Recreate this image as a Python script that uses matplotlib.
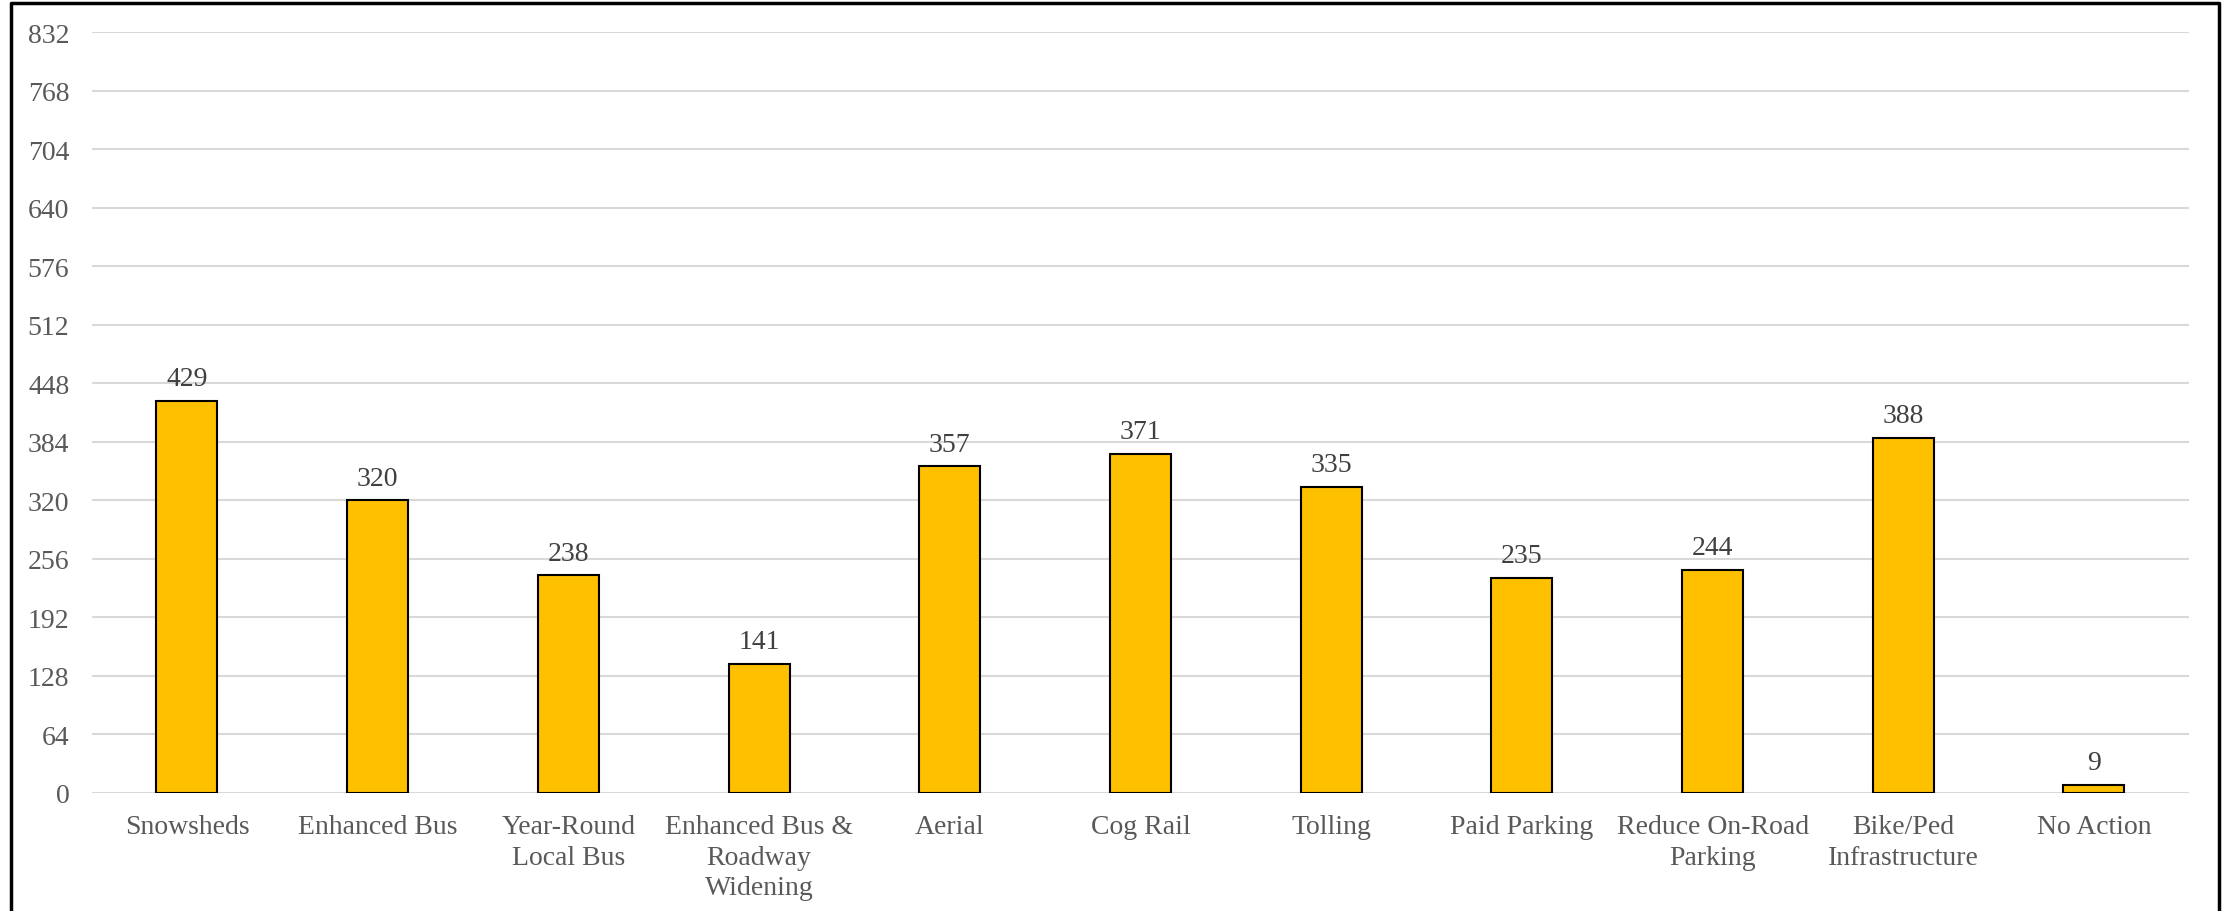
import matplotlib.pyplot as plt
from matplotlib.lines import Line2D

# options and vote counts
categories = ["Snowsheds", "Enhanced Bus", "Year-Round\nLocal Bus",
              "Enhanced Bus &\nRoadway\nWidening", "Aerial", "Cog Rail",
              "Tolling", "Paid Parking", "Reduce On-Road\nParking",
              "Bike/Ped\nInfrastructure", "No Action"]
votes = [429, 320, 238, 141, 357, 371, 335, 235, 244, 388, 9]
yticks = [0, 64, 128, 192, 256, 320, 384, 448, 512, 576, 640, 704, 768, 832]

plt.rcParams['font.family'] = ['Liberation Serif', 'DejaVu Serif']
txt = "#595959"

fig = plt.figure(figsize=(22.34, 9.12), dpi=100)
ax = fig.add_axes([0.041, 0.1294, 0.939, 0.8344])

x = range(len(categories))
bars = ax.bar(x, votes, width=0.32, color="#FFC000", edgecolor="black",
              linewidth=1.5, zorder=3)

for b, v in zip(bars, votes):
    ax.annotate(str(v), (b.get_x() + b.get_width() / 2, v),
                xytext=(0, 7), textcoords="offset points",
                ha="center", va="bottom", fontsize=20, color="#404040")

ax.set_xlim(-0.5, len(categories) - 0.5)
ax.set_ylim(0, 832)
ax.set_yticks(yticks)
ax.set_yticklabels([str(t) for t in yticks])
ax.set_xticks(list(x))
ax.set_xticklabels(categories, linespacing=1.3)
ax.tick_params(axis="both", length=0, labelsize=20, labelcolor=txt)
ax.tick_params(axis="y", pad=16)
ax.tick_params(axis="x", pad=15)

ax.yaxis.grid(True, color="#d9d9d9", linewidth=1.5, zorder=0)
ax.set_axisbelow(True)
for s in ax.spines.values():
    s.set_visible(False)

# outer frame: left, top and right edges only, bottom is cut off
fx0, fx1, fy1 = 11 / 2234, 2219 / 2234, 1 - 4 / 912
fig.add_artist(Line2D([fx0, fx0, fx1, fx1], [0, fy1, fy1, 0],
                      transform=fig.transFigure, color="black", linewidth=2.5))

fig.savefig("out.png", dpi=100)
